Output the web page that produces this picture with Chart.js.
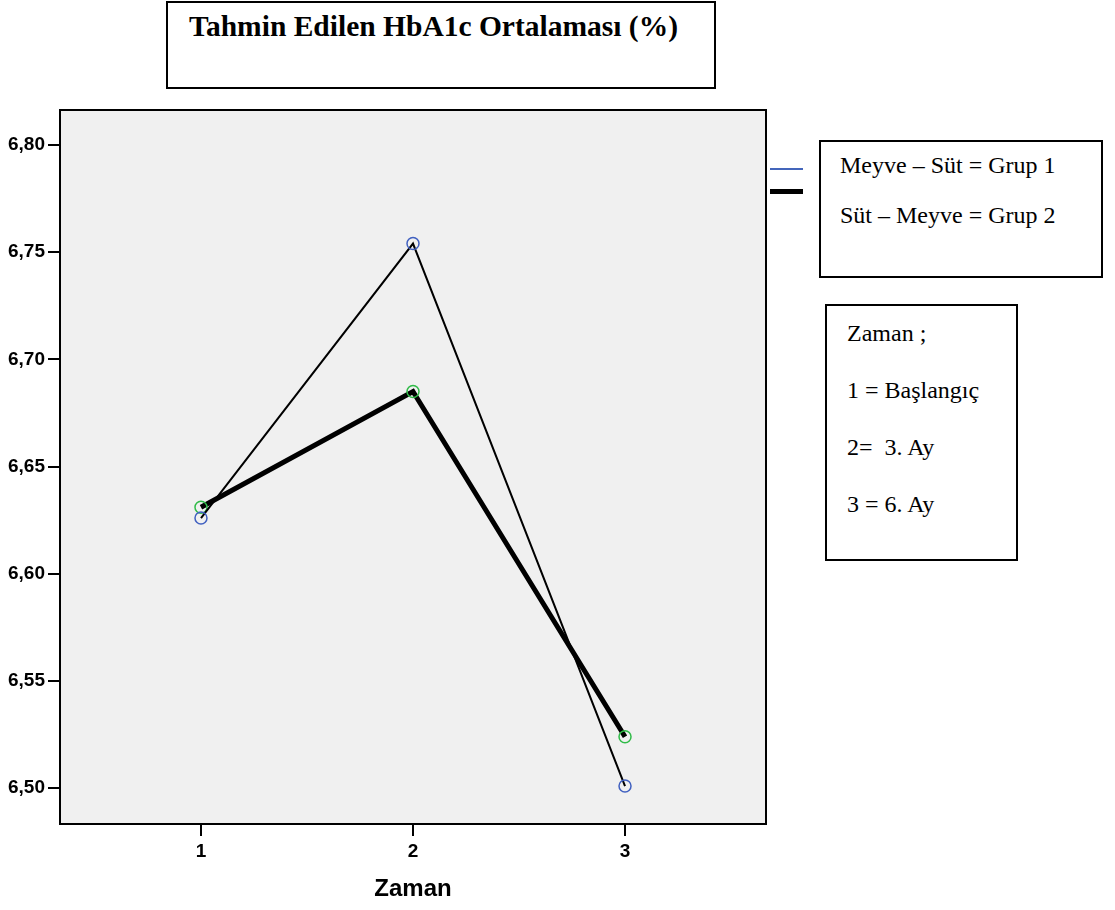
<!DOCTYPE html>
<html><head><meta charset="utf-8">
<script src="https://cdn.jsdelivr.net/npm/chart.js@4"></script>
<style>
body{margin:0;background:#fff;width:1115px;height:910px;overflow:hidden;position:relative;font-family:"Liberation Serif","Times New Roman",serif;color:#000}
#c{position:absolute;left:0;top:0}
.box{position:absolute;border:2px solid #000;box-sizing:border-box;background:#fff}
.t{position:absolute;white-space:nowrap;line-height:1}
.ln{position:absolute}
</style></head><body>
<canvas id="c" width="1115" height="910"></canvas>
<div class="box" style="left:166px;top:1px;width:550px;height:88px"></div>
<div class="t" style="left:189px;top:12px;font-size:29.5px;font-weight:bold">Tahmin Edilen HbA1c Ortalaması (%)</div>

<div class="ln" style="left:770px;top:168px;width:33px;height:2px;background:#4466bb"></div>
<div class="ln" style="left:770px;top:189px;width:33px;height:5px;background:#000"></div>
<div class="box" style="left:819px;top:140px;width:284px;height:138px"></div>
<div class="t" style="left:840px;top:153px;font-size:24px">Meyve – Süt = Grup 1</div>
<div class="t" style="left:840px;top:203px;font-size:24px">Süt – Meyve = Grup 2</div>

<div class="box" style="left:825px;top:304px;width:193px;height:257px"></div>
<div class="t" style="left:847px;top:321px;font-size:24px">Zaman ;</div>
<div class="t" style="left:847px;top:378px;font-size:24px">1 = Başlangıç</div>
<div class="t" style="left:847px;top:435px;font-size:24px">2=&nbsp; 3. Ay</div>
<div class="t" style="left:847px;top:492px;font-size:24px">3 = 6. Ay</div>

<script>
const zaman = [1, 2, 3];
const grup1 = [6.626, 6.754, 6.501];
const grup2 = [6.631, 6.685, 6.524];
const xTicks = [1, 2, 3];
const yTicks = [6.50, 6.55, 6.60, 6.65, 6.70, 6.75, 6.80];

const frame = {
  id: 'frame',
  beforeDatasetsDraw(chart) {
    const {ctx, chartArea: a} = chart;
    ctx.save();
    ctx.fillStyle = '#f0f0f0';
    ctx.fillRect(a.left, a.top, a.right - a.left, a.bottom - a.top);
    ctx.restore();
  },
  afterDraw(chart) {
    const {ctx, chartArea: a} = chart;
    ctx.save();
    ctx.strokeStyle = '#000';
    ctx.lineWidth = 2;
    ctx.strokeRect(a.left, a.top, a.right - a.left, a.bottom - a.top);
    ctx.restore();
  }
};

const sans = '"Liberation Sans", Arial, sans-serif';

new Chart(document.getElementById('c'), {
  type: 'line',
  data: {
    datasets: [
      {
        label: 'Meyve – Süt = Grup 1',
        data: zaman.map((x, i) => ({x, y: grup1[i]})),
        borderColor: '#000', borderWidth: 2,
        pointRadius: 6, pointBorderWidth: 1.5,
        pointBorderColor: '#4060c0', pointBackgroundColor: 'rgba(0,0,0,0)',
        tension: 0
      },
      {
        label: 'Süt – Meyve = Grup 2',
        data: zaman.map((x, i) => ({x, y: grup2[i]})),
        borderColor: '#000', borderWidth: 5,
        pointRadius: 6, pointBorderWidth: 1.5,
        pointBorderColor: '#30bb48', pointBackgroundColor: 'rgba(0,0,0,0)',
        tension: 0
      }
    ]
  },
  options: {
    responsive: false, animation: false, devicePixelRatio: 1,
    layout: {padding: {top: 110, right: 349, left: 0, bottom: 0}},
    plugins: {legend: {display: false}, tooltip: {enabled: false}},
    scales: {
      x: {
        type: 'linear', min: 0.335, max: 3.665,
        afterBuildTicks: s => { s.ticks = xTicks.map(v => ({value: v})); },
        afterFit: s => { s.height = 86; },
        grid: {drawOnChartArea: false, drawTicks: true, tickLength: 12, color: '#000', lineWidth: 2},
        border: {display: true, color: '#000', width: 2},
        ticks: {color: '#000', padding: 4, maxRotation: 0, font: {family: sans, size: 19, weight: 'bold'}, callback: v => String(v)},
        title: {display: true, text: 'Zaman', color: '#000', padding: {top: 0, bottom: 6}, font: {family: sans, size: 24, weight: 'bold'}}
      },
      y: {
        type: 'linear', min: 6.4833, max: 6.8163,
        afterBuildTicks: s => { s.ticks = yTicks.map(v => ({value: v})); },
        afterFit: s => { s.width = 60; },
        grid: {drawOnChartArea: false, drawTicks: true, tickLength: 12, color: '#000', lineWidth: 2},
        border: {display: true, color: '#000', width: 2},
        ticks: {color: '#000', padding: 3, font: {family: sans, size: 19, weight: 'bold'}, callback: v => v.toFixed(2).replace('.', ',')}
      }
    }
  },
  plugins: [frame]
});
</script>
</body></html>
